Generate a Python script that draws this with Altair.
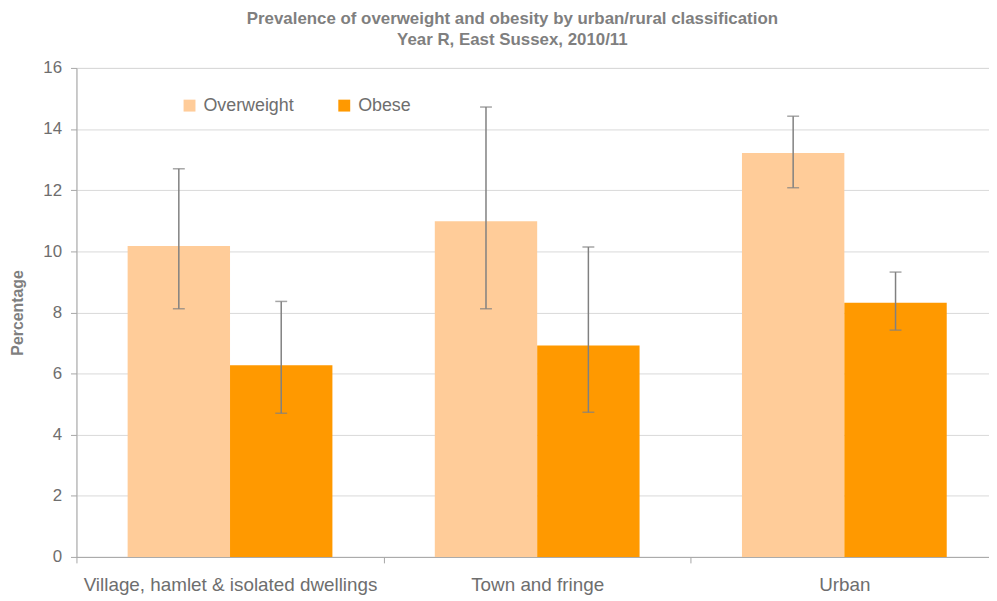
import altair as alt
import pandas as pd

categories = ["Village, hamlet & isolated dwellings", "Town and fringe", "Urban"]
series = ["Overweight", "Obese"]
overweight = [10.17, 10.98, 13.22]
overweight_lo = [8.12, 8.12, 12.08]
overweight_hi = [12.70, 14.72, 14.42]
obese = [6.27, 6.92, 8.32]
obese_lo = [4.70, 4.73, 7.42]
obese_hi = [8.36, 10.14, 9.32]
y_ticks = [0, 2, 4, 6, 8, 10, 12, 14, 16]

rows = []
for i, c in enumerate(categories):
    rows.append(dict(category=c, series="Overweight", value=overweight[i], lo=overweight_lo[i], hi=overweight_hi[i]))
    rows.append(dict(category=c, series="Obese", value=obese[i], lo=obese_lo[i], hi=obese_hi[i]))
df = pd.DataFrame(rows)

FONT = "Liberation Sans"
LABEL = "#6E6E6E"
AXIS = "#A6A6A6"
ERR = "#808080"

x = alt.X(
    "category:N",
    sort=categories,
    scale=alt.Scale(paddingInner=0, paddingOuter=0),
    axis=alt.Axis(
        title=None, labelAngle=0, tickBand="extent", grid=False,
        domainColor=AXIS, tickColor=AXIS, tickSize=6, labelFontSize=19,
        labelColor=LABEL, labelPadding=13, labelFont=FONT, labelLimit=0,
    ),
)
xo = alt.XOffset("series:N", sort=series, scale=alt.Scale(paddingOuter=0.5, paddingInner=0))
y = alt.Y(
    "value:Q",
    scale=alt.Scale(domain=[0, 16], nice=False),
    axis=alt.Axis(
        values=y_ticks, title="Percentage", titleFontSize=16, titleFontWeight="bold",
        titleColor="#7F7F7F", titleFont=FONT, titlePadding=17,
        labelFontSize=17, labelColor=LABEL, labelFont=FONT, labelPadding=9,
        tickSize=6, tickColor=AXIS, domainColor=AXIS, gridColor="#D9D9D9",
    ),
)

bars = alt.Chart(df).mark_bar().encode(
    x=x, xOffset=xo, y=y,
    color=alt.Color(
        "series:N", sort=series,
        scale=alt.Scale(domain=series, range=["#FFCC99", "#FF9900"]),
        legend=alt.Legend(
            title=None, orient="none", legendX=105, legendY=29, direction="horizontal",
            symbolType="square", symbolSize=144, symbolStrokeWidth=0,
            labelFontSize=18, labelColor=LABEL, labelFont=FONT, labelOffset=5,
            columnPadding=41, padding=0,
        ),
    ),
)

rules = alt.Chart(df).mark_rule(color=ERR, strokeWidth=1.5).encode(
    x=x, xOffset=xo, y="lo:Q", y2="hi:Q"
)
cap_hi = alt.Chart(df).mark_tick(color=ERR, size=12, thickness=1.5).encode(
    x=x, xOffset=xo, y="hi:Q"
)
cap_lo = alt.Chart(df).mark_tick(color=ERR, size=12, thickness=1.5).encode(
    x=x, xOffset=xo, y="lo:Q"
)

chart = alt.layer(bars, rules, cap_hi, cap_lo).properties(
    width=929,
    height=493,
    title=alt.Title(
        ["Prevalence of overweight and obesity by urban/rural classification", "Year R, East Sussex, 2010/11"],
        fontSize=17, font=FONT, fontWeight="bold", color="#7F7F7F",
        anchor="middle", dx=-25, offset=10, lineHeight=21,
    ),
    padding={"left": 69, "top": 58, "right": -9, "bottom": 38},
    autosize="none",
).configure_view(stroke=None).configure(font=FONT)

chart.save("out.html", embed_options={"renderer": "svg", "actions": False})
